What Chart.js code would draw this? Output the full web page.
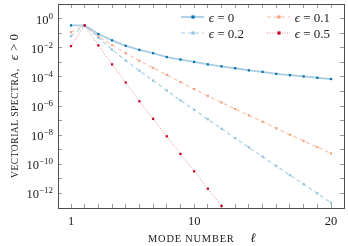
<!DOCTYPE html>
<html>
<head>
<meta charset="utf-8">
<script src="https://cdn.jsdelivr.net/npm/chart.js@4"></script>
<style>
html, body { margin: 0; padding: 0; background: #fff; }
#wrap { position: relative; width: 348px; height: 246px; font-family: "Liberation Serif", "DejaVu Serif", serif; color: #1a1a1a; }
#chart { position: absolute; left: 0; top: 0; }
.ylab { position: absolute; right: 295px; font-size: 12.5px; line-height: 12.5px; white-space: nowrap; }
.ylab sup { font-size: 9px; position: relative; top: -5px; vertical-align: baseline; line-height: 0; }
.leg { position: absolute; font-size: 13px; line-height: 13px; white-space: nowrap; }
.leg svg { position: absolute; }
.sc { font-size: 9.6px; letter-spacing: 0.5px; }
#xtitle .sc { font-size: 10.4px; letter-spacing: 0.8px; }
.mi { font-style: italic; font-size: 13px; }
#xtitle { position: absolute; left: 58px; width: 288px; top: 230px; text-align: center; line-height: 14px; white-space: nowrap; }
#ytitle { position: absolute; width: 207px; left: -90.5px; top: 97.5px; text-align: center; line-height: 14px; white-space: nowrap; transform: rotate(-90deg); }
</style>
</head>
<body>
<div id="wrap">
  <canvas id="chart" width="348" height="246"></canvas>
  <div id="ylabels"></div>
  <div id="legend"></div>
  <div id="xtitle"><span class="sc">MODE NUMBER</span>&nbsp;&nbsp;&nbsp;&nbsp;<span class="mi">ℓ</span></div>
  <div id="ytitle"><span class="sc">VECTORIAL SPECTRA,</span>&nbsp;&nbsp;<span class="mi">ϵ</span> <span style="font-size:13px">&gt; 0</span></div>
</div>
<script>
// Mode numbers on the x axis.
const modes = [1, 2, 3, 4, 5, 6, 7, 8, 9, 10, 11, 12, 13, 14, 15, 16, 17, 18, 19, 20];

// Spectra, one list per epsilon.
const specEps0 = [3.4e-1, 3.4e-1, 8.7e-2, 3.2e-2, 1.35e-2, 7.1e-3, 4.2e-3, 2.3e-3, 1.55e-3, 1.05e-3,
    7.2e-4, 5.2e-4, 3.9e-4, 2.8e-4, 2.2e-4, 1.6e-4, 1.3e-4, 1.07e-4, 8.7e-5, 7.1e-5];
const specEps01 = [1.15e-1, 3.4e-1, 5.9e-2, 1.5e-2, 4.2e-3, 1.26e-3, 4.1e-4, 1.38e-4, 4.4e-5, 1.45e-5,
    4.9e-6, 1.74e-6, 6.2e-7, 2.3e-7, 8.3e-8, 2.95e-8, 1.07e-8, 4.0e-9, 1.5e-9, 5.5e-10];
const specEps02 = [6.2e-2, 3.4e-1, 5.0e-2, 7.4e-3, 1.32e-3, 2.6e-4, 5.6e-5, 1.15e-5, 2.45e-6, 5.6e-7,
    1.23e-7, 2.75e-8, 6.2e-9, 1.45e-9, 3.3e-10, 7.6e-11, 1.8e-11, 4.3e-12, 1.0e-12, 2.3e-13];
const specEps05 = [1.29e-2, 3.4e-1, 1.45e-2, 7.2e-4, 4.1e-5, 2.1e-6, 1.32e-7, 8.3e-9, 5.1e-10, 3.3e-11,
    2.1e-12, 1.38e-13];

const seriesLabels = ['ϵ = 0', 'ϵ = 0.1', 'ϵ = 0.2', 'ϵ = 0.5'];

// Tick labels.
const xTickLabels = [1, 10, 20];
const yTickExps = [1, 0, -1, -2, -3, -4, -5, -6, -7, -8, -9, -10, -11, -12, -13];
const yLabelExps = [0, -2, -4, -6, -8, -10, -12];

const FONT = '"Liberation Serif", "DejaVu Serif", serif';

const toPoints = (vals) => vals.map((v, i) => ({x: modes[i], y: v}));

const makeSet = (label, vals, line, mark, width, dash, order) => ({
    label: label,
    data: toPoints(vals),
    borderColor: line,
    borderWidth: width,
    borderDash: dash,
    pointStyle: 'rect',
    pointRadius: 1.6,
    pointBorderWidth: 0,
    pointBackgroundColor: mark,
    backgroundColor: mark,
    fill: false,
    tension: 0,
    order: order,
    xAxisID: 'x',
    yAxisID: 'y',
});

const datasets = [
    makeSet(seriesLabels[0], specEps0, 'rgba(5,113,176,0.35)', '#0571b0', 1.8, [], 4),
    makeSet(seriesLabels[1], specEps01, 'rgba(244,165,130,0.7)', '#f4a582', 1.1, [4, 3], 3),
    makeSet(seriesLabels[2], specEps02, 'rgba(146,197,222,0.8)', '#92c5de', 1.1, [4, 3], 2),
    makeSet(seriesLabels[3], specEps05, 'rgba(202,0,32,0.45)', '#ca0020', 1, [1, 1.5], 1),
];

// Shared grid look: ticks pointing into the plot, no grid lines.
const innerGrid = {drawOnChartArea: false, tickLength: -4, color: '#9a9a9a', tickColor: '#9a9a9a', tickWidth: 1};
const frame = {display: true, color: '#4d4d4d', width: 1};

const xTicks = (scale) => {
    scale.ticks = modes.map((v) => ({value: v}));
};
const yTicks = (scale) => {
    scale.ticks = yTickExps.map((e) => ({value: Math.pow(10, e)}));
};

const supText = (e) => (e < 0 ? '&minus;' + (-e) : String(e));

// y labels as html so the exponents are real superscripts.
const yLabelPlugin = {
    id: 'yLabels',
    afterDraw(chart) {
        const box = document.getElementById('ylabels');
        box.innerHTML = '';
        const y = chart.scales.y;
        yLabelExps.forEach((e) => {
            const d = document.createElement('div');
            d.className = 'ylab';
            d.innerHTML = '10<sup>' + supText(e) + '</sup>';
            d.style.top = (y.getPixelForValue(Math.pow(10, e)) - 6.25 + 1.3) + 'px';
            box.appendChild(d);
        });
    },
};

// Legend in two columns, inside the plot, top right.
const legendSpots = [[181, 17.3], [267, 17.3], [181, 33.3], [267, 33.3]];

const buildLegend = (chart) => {
    const box = document.getElementById('legend');
    box.innerHTML = '';
    chart.data.datasets.forEach((ds, i) => {
        const [lx, ly] = legendSpots[i];
        const item = document.createElement('div');
        item.className = 'leg';
        item.style.left = lx + 'px';
        item.style.top = (ly - 6.5) + 'px';
        const dash = ds.borderDash.length ? ds.borderDash.join(' ') : 'none';
        item.innerHTML =
            '<svg width="23" height="8" style="left:0;top:2.5px">' +
            '<line x1="0" y1="4" x2="23" y2="4" stroke="' + ds.borderColor + '" stroke-width="' + ds.borderWidth +
            '" stroke-dasharray="' + dash + '"/>' +
            '<rect x="10.4" y="2.4" width="3.2" height="3.2" fill="' + ds.pointBackgroundColor + '"/></svg>' +
            '<span style="margin-left:27.7px"><i>' + ds.label.slice(0, 1) + '</i>' + ds.label.slice(1) + '</span>';
        box.appendChild(item);
    });
};

const chart = new Chart(document.getElementById('chart'), {
    type: 'line',
    data: {datasets: datasets},
    options: {
        responsive: false,
        animation: false,
        devicePixelRatio: 1,
        layout: {padding: {top: 1, right: 2, left: 0, bottom: 0}},
        plugins: {legend: {display: false}, tooltip: {enabled: false}},
        scales: {
            x: {
                type: 'linear',
                position: 'bottom',
                min: 0.05,
                max: 20.95,
                afterBuildTicks: xTicks,
                afterFit: (s) => { s.height = 38; },
                ticks: {
                    autoSkip: false,
                    maxRotation: 0,
                    padding: 10,
                    color: '#1a1a1a',
                    font: {family: FONT, size: 12.5},
                    callback: (v) => (xTickLabels.includes(v) ? String(v) : ''),
                },
                grid: innerGrid,
                border: frame,
            },
            xTop: {
                type: 'linear',
                position: 'top',
                min: 0.05,
                max: 20.95,
                afterBuildTicks: xTicks,
                afterFit: (s) => { s.height = 0; },
                ticks: {display: false},
                grid: innerGrid,
                border: frame,
            },
            y: {
                type: 'logarithmic',
                position: 'left',
                min: 1e-13,
                max: 10,
                afterBuildTicks: yTicks,
                afterFit: (s) => { s.width = 58; },
                ticks: {display: false},
                grid: innerGrid,
                border: frame,
            },
            yRight: {
                type: 'logarithmic',
                position: 'right',
                min: 1e-13,
                max: 10,
                afterBuildTicks: yTicks,
                afterFit: (s) => { s.width = 0; },
                ticks: {display: false},
                grid: innerGrid,
                border: frame,
            },
        },
    },
    plugins: [yLabelPlugin],
});

buildLegend(chart);
</script>
</body>
</html>
